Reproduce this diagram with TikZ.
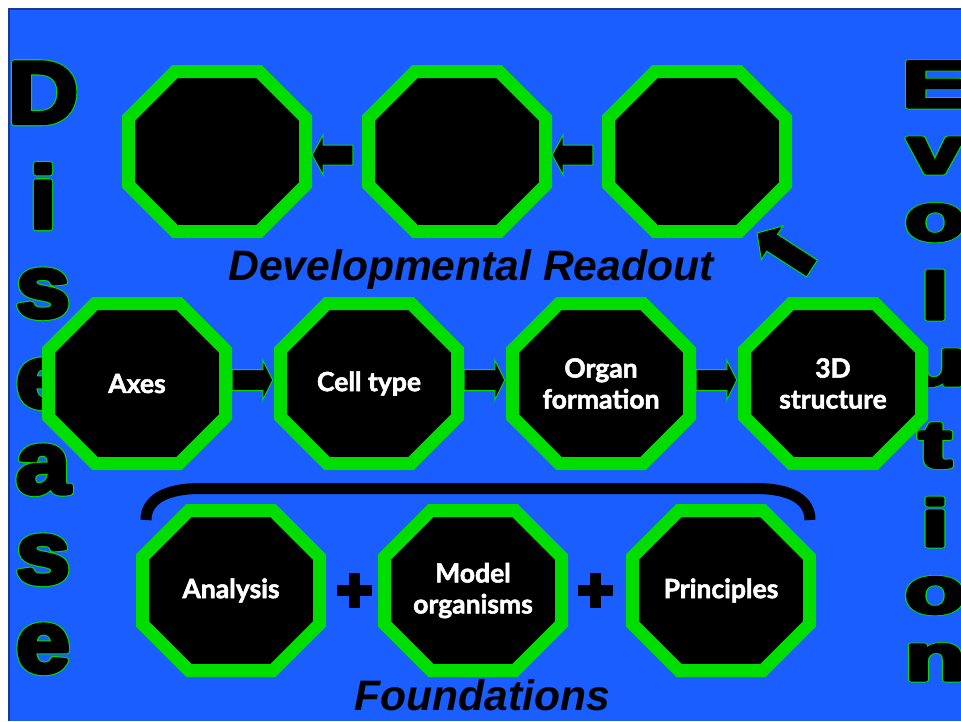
\documentclass[tikz,border=0pt]{standalone}
\usepackage{fontspec}
\setmainfont{Liberation Sans}
\newfontfamily\boxfont{Lato}[BoldFeatures={FakeBold=2}]
\newfontfamily\dBlack{Liberation Sans Bold}[FakeBold=5]
\newfontfamily\dGreen{Liberation Sans Bold}[FakeBold=7.4]
\newfontfamily\eBlack{Liberation Sans Bold}[FakeBold=5]
\newfontfamily\eGreen{Liberation Sans Bold}[FakeBold=7.6]
\usetikzlibrary{calc}
\definecolor{bgblue}{RGB}{26,94,255}
\definecolor{edgeblue}{RGB}{30,55,150}
\definecolor{ogreen}{RGB}{0,221,0}
\newcommand\rjoin{\special{pdf:literal direct 1 j}}
\newcommand\dl[1]{\rjoin\scalebox{1.1}[1]{\rlap{\dGreen\color{ogreen}#1}\dBlack\color{black}#1}}
\newcommand\el[1]{\rjoin\scalebox{1.5}[1]{\rlap{\eGreen\color{ogreen}#1}\eBlack\color{black}#1}}
\newcommand\octbox[3]{%
  \path[oct] (#2) ++(-42,-80) -- ++(84,0) -- ++(46.5,46.5) -- ++(0,67)
    -- ++(-46.5,46.5) -- ++(-84,0) -- ++(-46.5,-46.5) -- ++(0,-67) -- cycle;
  \node[lbl] (#1) at (#2) {#3};}
\newcommand\blockarrow[5]{%
  \path[barrow] let \p1=(#1), \p2=(#2),
      \n1={atan2(\y2-\y1,\x2-\x1)}, \n2={veclen(\x2-\x1,\y2-\y1)} in
    [shift={(\p1)}, rotate=\n1]
    (0,#3) -- (\n2-#5,#3) -- (\n2-#5,#4) -- (\n2,0) -- (\n2-#5,-#4)
    -- (\n2-#5,-#3) -- (0,-#3) -- cycle;}
\newcommand\plussign[1]{%
  \fill[black] ($(#1)+(-17.5,-5.5)$) rectangle ($(#1)+(17.5,5.5)$);
  \fill[black] ($(#1)+(-5.5,-17.5)$) rectangle ($(#1)+(5.5,17.5)$);}
\tikzset{
  oct/.style={fill=black, draw=ogreen, line width=13pt, line join=miter},
  lbl/.style={text=white, font=\boxfont\bfseries\fontsize{26.5}{31}\selectfont,
    align=center, minimum width=190pt, minimum height=173pt, inner sep=0pt},
  barrow/.style={fill=black, draw=ogreen, line width=1pt, line join=miter},
  heading/.style={anchor=base, inner sep=0pt, text=black,
    font=\bfseries\itshape\fontsize{42.6}{48}\selectfont},
  dlet/.style={anchor=base, inner sep=0pt, font=\fontsize{88}{88}\selectfont},
  elet/.style={anchor=base, inner sep=0pt, font=\fontsize{66}{66}\selectfont},
  bracket/.style={draw=black, line width=11pt}
}
\begin{document}
\begin{tikzpicture}[x=1pt,y=-1pt]
\useasboundingbox (0,0) rectangle (961,721);
\fill[white] (0,0) rectangle (961,721);
\fill[bgblue] (9,9) rectangle (961,721);
\draw[edgeblue, line width=1.5pt] (9,721) -- (9,9) -- (961,9);

% Disease
\node[dlet] (dD) at (43,123) {\dl{D}};
\node[dlet] (di) at (43,228) {\dl{i}};
\node[dlet] (ds1) at (43,317) {\dl{s}};
\node[dlet] (de1) at (43,407) {\dl{e}};
\node[dlet] (da) at (43,493) {\dl{a}};
\node[dlet] (ds2) at (43,583) {\dl{s}};
\node[dlet] (de2) at (43,672) {\dl{e}};

% Evolution
\node[elet] (eE) at (935,107) {\el{E}};
\node[elet] (ev) at (935,173) {\el{v}};
\node[elet] (eo1) at (935,240) {\el{o}};
\node[elet] (el) at (935,319) {\el{l}};
\node[elet] (eu) at (935,385) {\el{u}};
\node[elet] (et) at (935,467) {\el{t}};
\node[elet] (ei) at (935,546) {\el{i}};
\node[elet] (eo2) at (935,613) {\el{o}};
\node[elet] (en) at (935,680) {\el{n}};

% top row
\octbox{t1}{217,151.5}{}
\octbox{t2}{457,151.5}{}
\octbox{t3}{697,151.5}{}
\blockarrow{$(t2.west)+(-9,3.5)$}{$(t1.east)+(0,3.5)$}{10}{20}{11}
\blockarrow{$(t3.west)+(-9,3.5)$}{$(t2.east)+(0,3.5)$}{10}{20}{11}
\coordinate (dtail) at (812,268.5);
\coordinate (dtip) at (757,233);
\blockarrow{dtail}{dtip}{10}{20}{18}
\node[heading] (dev) at (471,280) {Developmental Readout};

% middle row
\octbox{axes}{137,383.5}{Axes}
\octbox{cell}{369,383.5}{Cell type}
\octbox{organ}{601,383.5}{Organ\\formation}
\octbox{struct}{833,383.5}{3D\\structure}
\blockarrow{$(axes.east)+(0,-3.5)$}{$(cell.west)+(-1,-3.5)$}{10.5}{20}{10}
\blockarrow{$(cell.east)+(0,-3.5)$}{$(organ.west)+(-1,-3.5)$}{10.5}{20}{10}
\blockarrow{$(organ.east)+(0,-3.5)$}{$(struct.west)+(-1,-3.5)$}{10.5}{20}{10}

% bracket
\draw[bracket] (146,520) .. controls (146,500) and (165,488.5) .. (200,488.5)
  -- (756,488.5) .. controls (791,488.5) and (810,500) .. (810,520);

% bottom row
\octbox{analysis}{231,590.5}{Analysis}
\octbox{model}{473,590.5}{Model\\organisms}
\octbox{principles}{721,590.5}{Principles}
\coordinate (p1) at (354.5,590.5);
\coordinate (p2) at (595,590.5);
\plussign{p1}
\plussign{p2}
\node[heading] (found) at (482.5,710) {Foundations};
\end{tikzpicture}
\end{document}
